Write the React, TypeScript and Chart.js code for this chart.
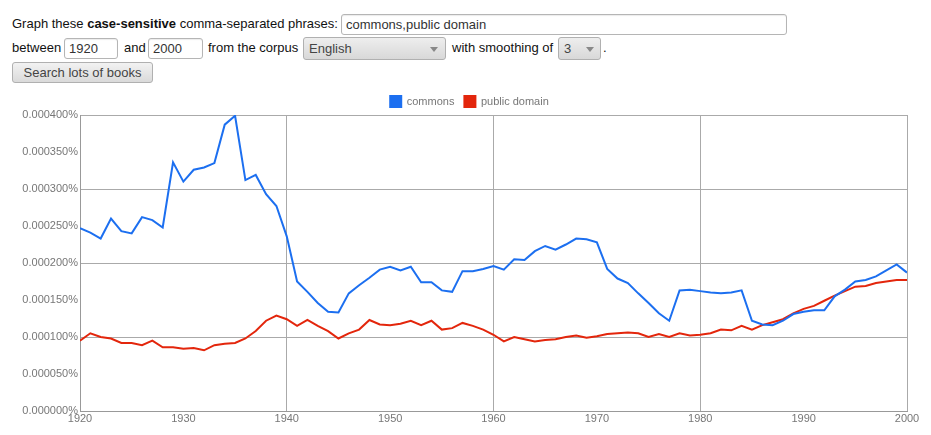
import React, { useEffect, useRef } from "react";
import { Chart, registerables } from "chart.js";

Chart.register(...registerables);

const years = [
  1920, 1921, 1922, 1923, 1924, 1925, 1926, 1927, 1928, 1929,
  1930, 1931, 1932, 1933, 1934, 1935, 1936, 1937, 1938, 1939,
  1940, 1941, 1942, 1943, 1944, 1945, 1946, 1947, 1948, 1949,
  1950, 1951, 1952, 1953, 1954, 1955, 1956, 1957, 1958, 1959,
  1960, 1961, 1962, 1963, 1964, 1965, 1966, 1967, 1968, 1969,
  1970, 1971, 1972, 1973, 1974, 1975, 1976, 1977, 1978, 1979,
  1980, 1981, 1982, 1983, 1984, 1985, 1986, 1987, 1988, 1989,
  1990, 1991, 1992, 1993, 1994, 1995, 1996, 1997, 1998, 1999,
  2000,
];

// values in percent
const commons = [
  0.000247, 0.000241, 0.000233, 0.000260, 0.000243, 0.000240, 0.000262, 0.000258, 0.000248, 0.000336,
  0.000310, 0.000326, 0.000329, 0.000335, 0.000387, 0.000399, 0.000312, 0.000319, 0.000293, 0.000277,
  0.000236, 0.000175, 0.000161, 0.000146, 0.000134, 0.000133, 0.000159, 0.000170, 0.000180, 0.000191,
  0.000195, 0.000190, 0.000195, 0.000174, 0.000174, 0.000163, 0.000161, 0.000189, 0.000189, 0.000192,
  0.000196, 0.000191, 0.000205, 0.000204, 0.000216, 0.000223, 0.000218, 0.000225, 0.000233, 0.000232,
  0.000228, 0.000192, 0.000179, 0.000173, 0.000159, 0.000146, 0.000132, 0.000122, 0.000163, 0.000164,
  0.000162, 0.000160, 0.000159, 0.000160, 0.000163, 0.000122, 0.000117, 0.000116, 0.000122, 0.000131,
  0.000134, 0.000136, 0.000136, 0.000155, 0.000164, 0.000175, 0.000177, 0.000182, 0.000190, 0.000198,
  0.000187,
];

const publicDomain = [
  0.000095, 0.000105, 0.000100, 0.000098, 0.000092, 0.000092, 0.000089, 0.000095, 0.000086, 0.000086,
  0.000084, 0.000085, 0.000082, 0.000089, 0.000091, 0.000092, 0.000098, 0.000108, 0.000122, 0.000129,
  0.000124, 0.000115, 0.000123, 0.000115, 0.000108, 0.000098, 0.000105, 0.000110, 0.000123, 0.000117,
  0.000116, 0.000118, 0.000122, 0.000116, 0.000122, 0.000110, 0.000112, 0.000119, 0.000115, 0.000110,
  0.000103, 0.000094, 0.000100, 0.000097, 0.000094, 0.000096, 0.000097, 0.000100, 0.000102, 0.000099,
  0.000101, 0.000104, 0.000105, 0.000106, 0.000105, 0.000100, 0.000104, 0.000100, 0.000105, 0.000102,
  0.000103, 0.000105, 0.000110, 0.000109, 0.000115, 0.000110, 0.000116, 0.000120, 0.000124, 0.000132,
  0.000138, 0.000142, 0.000149, 0.000156, 0.000162, 0.000168, 0.000169, 0.000173, 0.000175, 0.000177,
  0.000177,
];

const seriesNames = ["commons", "public domain"];
const seriesColors = ["#1c6ff0", "#e3260c"];
const yMin = 0;
const yMax = 0.0004;
const yStep = 0.00005;
const xMin = 1920;
const xMax = 2000;
const xStep = 10;

const FONT = "Arial, 'Liberation Sans', sans-serif";

const legendShift = {
  id: "legendShift",
  afterLayout(chart: any) {
    const lg = chart.legend;
    if (!lg) return;
    lg.left += 16;
    lg.right += 16;
    lg.top += 2;
    lg.bottom += 2;
  },
};

function ChartView() {
  const ref = useRef<HTMLCanvasElement | null>(null);
  useEffect(() => {
    if (!ref.current) return;
    const mk = (vals: number[]) => years.map((x, i) => ({ x, y: vals[i] }));
    const chart = new Chart(ref.current, {
      type: "line",
      data: {
        datasets: [
          {
            label: seriesNames[0],
            data: mk(commons),
            borderColor: seriesColors[0],
            backgroundColor: seriesColors[0],
            borderWidth: 2,
            pointRadius: 0,
            tension: 0,
          },
          {
            label: seriesNames[1],
            data: mk(publicDomain),
            borderColor: seriesColors[1],
            backgroundColor: seriesColors[1],
            borderWidth: 2,
            pointRadius: 0,
            tension: 0,
          },
        ],
      },
      plugins: [legendShift],
      options: {
        responsive: false,
        animation: false,
        devicePixelRatio: 1,
        layout: { padding: { left: 0, right: 24, top: 0, bottom: 0 } },
        plugins: {
          tooltip: { enabled: false },
          legend: {
            position: "top",
            align: "center",
            labels: {
              boxWidth: 11,
              boxHeight: 11,
              padding: 10,
              color: "#777",
              font: { family: FONT, size: 11 },
            },
          },
        },
        scales: {
          x: {
            type: "linear",
            min: xMin,
            max: xMax,
            ticks: {
              stepSize: xStep,
              color: "#777",
              font: { family: FONT, size: 11 },
              padding: 1,
              maxRotation: 0,
              callback: (v: any) => String(v),
            },
            grid: {
              drawTicks: false,
              color: (ctx: any) => {
                const v = ctx.tick ? ctx.tick.value : 0;
                if (v === xMin) return "rgba(0,0,0,0)";
                return (v - xMin) % 20 === 0 ? "#aaa" : "rgba(0,0,0,0)";
              },
            },
            border: { color: "#999", width: 1 },
            afterFit: (s: any) => {
              s.height = 24;
            },
          },
          y: {
            type: "linear",
            min: yMin,
            max: yMax,
            ticks: {
              stepSize: yStep,
              color: "#777",
              font: { family: FONT, size: 11 },
              padding: 2,
              callback: (v: any) => Number(v).toFixed(6) + "%",
            },
            grid: {
              drawTicks: false,
              color: (ctx: any) => {
                const v = ctx.tick ? ctx.tick.value : 0;
                const k = Math.round(v / yStep);
                if (k === 0) return "rgba(0,0,0,0)";
                return k % 2 === 0 ? "#aaa" : "rgba(0,0,0,0)";
              },
            },
            border: { color: "#999", width: 1 },
            afterFit: (s: any) => {
              s.width = 80;
            },
          },
        },
      } as any,
    });
    return () => chart.destroy();
  }, []);
  return (
    <canvas
      ref={ref}
      width={931}
      height={351}
      style={{ position: "absolute", left: 0, top: 84, width: 931, height: 351 }}
    />
  );
}

const inputStyle: React.CSSProperties = {
  position: "absolute",
  boxSizing: "border-box",
  border: "1px solid #b5b5b5",
  borderRadius: 3,
  background: "#fff",
  fontSize: 13,
  lineHeight: "19px",
  paddingLeft: 4,
  color: "#333",
  boxShadow: "inset 0 1px 1px rgba(0,0,0,0.08)",
};

const selectStyle: React.CSSProperties = {
  position: "absolute",
  boxSizing: "border-box",
  border: "1px solid #b0b0b0",
  borderRadius: 3,
  background: "linear-gradient(#eeeeee, #d8d8d8)",
  fontSize: 13,
  lineHeight: "21px",
  paddingLeft: 5,
  color: "#444",
};

function Arrow({ left }: { left: number }) {
  return (
    <div
      style={{
        position: "absolute",
        left,
        top: 9,
        width: 0,
        height: 0,
        borderLeft: "4px solid transparent",
        borderRight: "4px solid transparent",
        borderTop: "5px solid #888",
      }}
    />
  );
}

function Label({ left, top, children }: { left: number; top: number; children: React.ReactNode }) {
  return (
    <span style={{ position: "absolute", left, top, lineHeight: "16px", whiteSpace: "nowrap" }}>
      {children}
    </span>
  );
}

export default function App() {
  return (
    <div
      style={{
        position: "absolute",
        left: 0,
        top: 0,
        width: 931,
        height: 435,
        background: "#fff",
        fontFamily: FONT,
        fontSize: 13,
        color: "#111",
        overflow: "hidden",
      }}
    >
      <Label left={12} top={16}>
        Graph these <b>case-sensitive</b> comma-separated phrases:
      </Label>
      <div style={{ ...inputStyle, left: 341, top: 14, width: 446, height: 21 }}>commons,public domain</div>

      <Label left={12} top={40}>between</Label>
      <div style={{ ...inputStyle, left: 64, top: 38, width: 54, height: 21 }}>1920</div>
      <Label left={124} top={40}>and</Label>
      <div style={{ ...inputStyle, left: 148, top: 38, width: 55, height: 21 }}>2000</div>
      <Label left={208} top={40}>from the corpus</Label>
      <div style={{ ...selectStyle, left: 303, top: 37, width: 143, height: 23 }}>
        English
        <Arrow left={126} />
      </div>
      <Label left={452} top={40}>with smoothing of</Label>
      <div style={{ ...selectStyle, left: 558, top: 37, width: 43, height: 23 }}>
        3
        <Arrow left={27} />
      </div>
      <Label left={603} top={40}>.</Label>

      <div
        style={{
          position: "absolute",
          boxSizing: "border-box",
          left: 12,
          top: 62,
          width: 141,
          height: 21,
          border: "1px solid #b0b0b0",
          borderRadius: 3,
          background: "linear-gradient(#f2f2f2, #dadada)",
          color: "#444",
          fontSize: 13,
          lineHeight: "19px",
          textAlign: "center",
        }}
      >
        Search lots of books
      </div>

      <ChartView />
    </div>
  );
}
